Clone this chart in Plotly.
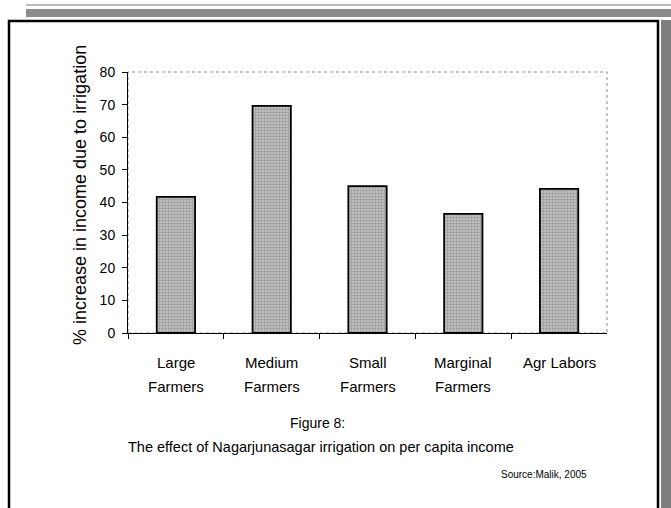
import plotly.graph_objects as go

# data
categories = ["Large Farmers", "Medium Farmers", "Small Farmers", "Marginal Farmers", "Agr Labors"]
label_line1 = ["Large", "Medium", "Small", "Marginal", "Agr Labors"]
label_line2 = ["Farmers", "Farmers", "Farmers", "Farmers", ""]
increase_pct = [41.7, 69.6, 45.0, 36.5, 44.2]

W, H = 671, 508
FONT = "Liberation Sans, Arial, sans-serif"


def px(x):
    return x / W


def py(y):
    return 1 - y / H


fig = go.Figure()
fig.add_trace(
    go.Bar(
        x=categories,
        y=increase_pct,
        width=0.4,
        marker={
            "color": "#b4b4b4",
            "line": {"color": "black", "width": 1.8},
            "pattern": {
                "shape": ".",
                "fgcolor": "#6e6e6e",
                "bgcolor": "#c8c8c8",
                "size": 3,
                "solidity": 0.5,
            },
        },
        showlegend=False,
    )
)


def note(x, y, text, size, xref="paper", xanchor="center", angle=0):
    return {
        "x": x, "y": y, "xref": xref, "yref": "paper", "text": text,
        "xanchor": xanchor, "yanchor": "middle", "textangle": angle,
        "showarrow": False, "font": {"size": size, "color": "black"},
    }


annotations = []
# two-line category labels (wider line spacing than plotly's <br>)
for cat, l1, l2 in zip(categories, label_line1, label_line2):
    annotations.append(note(cat, py(362), l1, 15, xref="x"))
    if l2:
        annotations.append(note(cat, py(386), l2, 15, xref="x"))

annotations += [
    note(px(80), py(195), "% increase in income due to irrigation", 18, angle=-90),
    note(px(317), py(423), "Figure 8:", 14),
    note(px(321), py(447), "The effect of Nagarjunasagar irrigation on per capita income", 14.5),
    note(px(589), py(474), "Source:Malik, 2005", 10, xanchor="right"),
]

shapes = [
    # scanned page edges (top and right strips)
    {"type": "rect", "xref": "paper", "yref": "paper", "x0": px(26), "x1": 1,
     "y0": py(6), "y1": py(4), "fillcolor": "#bdbdbd", "line": {"width": 0}},
    {"type": "rect", "xref": "paper", "yref": "paper", "x0": px(26), "x1": 1,
     "y0": py(17), "y1": py(9), "fillcolor": "#8c8c8c", "line": {"width": 0}},
    {"type": "rect", "xref": "paper", "yref": "paper", "x0": px(661), "x1": 1,
     "y0": 0, "y1": py(20), "fillcolor": "#7e7e7e", "line": {"width": 0}},
    # outer frame
    {"type": "rect", "xref": "paper", "yref": "paper", "x0": px(9), "x1": px(658),
     "y0": -0.05, "y1": py(21), "line": {"color": "black", "width": 2.5}},
    # plot area border
    {"type": "rect", "xref": "paper", "yref": "paper", "x0": px(128), "x1": px(607),
     "y0": py(333), "y1": py(72), "line": {"color": "#8a8a8a", "width": 1, "dash": "dot"},
     "layer": "below"},
]

fig.update_layout(
    width=W,
    height=H,
    margin={"l": 0, "r": 0, "t": 0, "b": 0, "autoexpand": False},
    paper_bgcolor="white",
    plot_bgcolor="white",
    font={"family": FONT, "color": "black"},
    xaxis={
        "domain": [px(128), px(607)],
        "automargin": False,
        "type": "category",
        "range": [-0.5, 4.5],
        "showticklabels": False,
        "tickson": "boundaries",
        "ticks": "outside",
        "ticklen": 5,
        "tickcolor": "black",
        "showline": True,
        "linecolor": "black",
        "linewidth": 1,
        "showgrid": False,
        "zeroline": False,
    },
    yaxis={
        "domain": [py(333), py(72)],
        "automargin": False,
        "range": [0, 80],
        "dtick": 10,
        "ticks": "outside",
        "ticklen": 5,
        "tickcolor": "black",
        "showline": True,
        "linecolor": "black",
        "linewidth": 1,
        "showgrid": False,
        "zeroline": False,
        "tickfont": {"size": 14},
        "ticklabelstandoff": 4,
    },
    annotations=annotations,
    shapes=shapes,
)

fig.write_html(
    "out.html",
    config={"displayModeBar": False},
    post_script="document.body.style.margin='0';document.body.style.overflow='hidden';",
)
